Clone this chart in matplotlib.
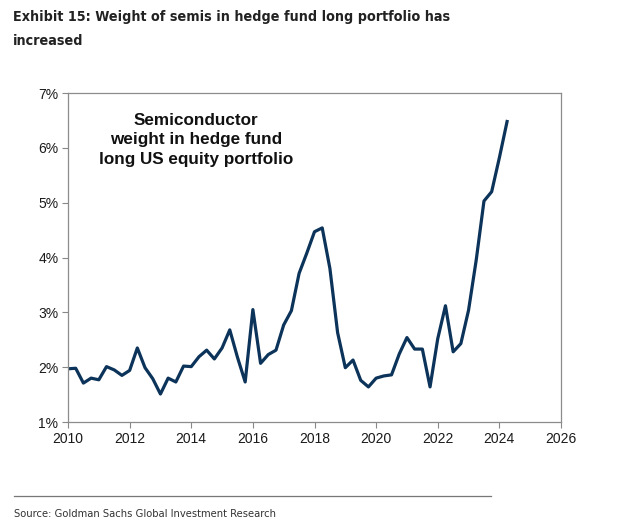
import numpy as np
import matplotlib
matplotlib.use("Agg")
import matplotlib.pyplot as plt
from matplotlib.ticker import FuncFormatter

# quarterly semis weight (%), 2010Q1 .. 2024Q2
years = [2010 + 0.25 * i for i in range(58)]
weight = [
    1.97, 1.98, 1.71, 1.80,
    1.77, 2.01, 1.95, 1.85,
    1.94, 2.35, 1.99, 1.79,
    1.51, 1.80, 1.73, 2.02,
    2.01, 2.19, 2.31, 2.15,
    2.35, 2.68, 2.18, 1.73,
    3.05, 2.07, 2.23, 2.31,
    2.77, 3.03, 3.71, 4.08,
    4.47, 4.54, 3.80, 2.63,
    1.99, 2.13, 1.76, 1.64,
    1.80, 1.84, 1.86, 2.24,
    2.54, 2.33, 2.33, 1.64,
    2.52, 3.12, 2.28, 2.43,
    3.04, 3.96, 5.03, 5.20,
    5.82, 6.48,
]
x_ticks = list(range(2010, 2027, 2))
y_ticks = [1, 2, 3, 4, 5, 6, 7]

title_lines = ["Exhibit 15: Weight of semis in hedge fund long portfolio has",
               "increased"]
note = "Semiconductor\nweight in hedge fund\nlong US equity portfolio"
source = "Source: Goldman Sachs Global Investment Research"

narrow = ["DejaVu Sans"]
sans = ["Liberation Sans", "DejaVu Sans"]

fig = plt.figure(figsize=(6.25, 5.3), dpi=100)
W, H = 625, 530
ax = fig.add_axes([68 / W, 1 - 422 / H, (561 - 68) / W, (422 - 93) / H])

ax.plot(years, weight, color="#0c3359", lw=2.3, solid_joinstyle="round")

ax.set_xlim(2010, 2026)
ax.set_ylim(1, 7)
ax.set_xticks(x_ticks)
ax.set_yticks(y_ticks)
ax.yaxis.set_major_formatter(FuncFormatter(lambda v, p: "%d%%" % v))
for lab in ax.get_xticklabels() + ax.get_yticklabels():
    lab.set_family(sans)
    lab.set_fontsize(10)
    lab.set_color("#1a1a1a")
ax.tick_params(direction="out", length=4, width=0.8, color="#888888", pad=3)
for s in ax.spines.values():
    s.set_color("#8c8c8c")
    s.set_linewidth(0.9)

ax.text(2014.16, 6.64, note, ha="center", va="top", fontsize=12.3,
        fontweight="bold", family=sans, color="#111111", linespacing=1.38)

for i, line in enumerate(title_lines):
    fig.text(13 / W, 1 - (17 + 24 * i) / H, line, ha="left", va="center",
             fontsize=10.3, fontweight="bold", family=narrow,
             stretch="condensed", color="#222222")

fig.add_artist(plt.Line2D([14 / W, 491 / W], [1 - 496 / H, 1 - 496 / H],
                          color="#777777", lw=0.9))
fig.text(14 / W, 1 - 514 / H, source, ha="left", va="center", fontsize=8,
         family=narrow, stretch="condensed", color="#333333")

fig.savefig("out.png", dpi=100)
